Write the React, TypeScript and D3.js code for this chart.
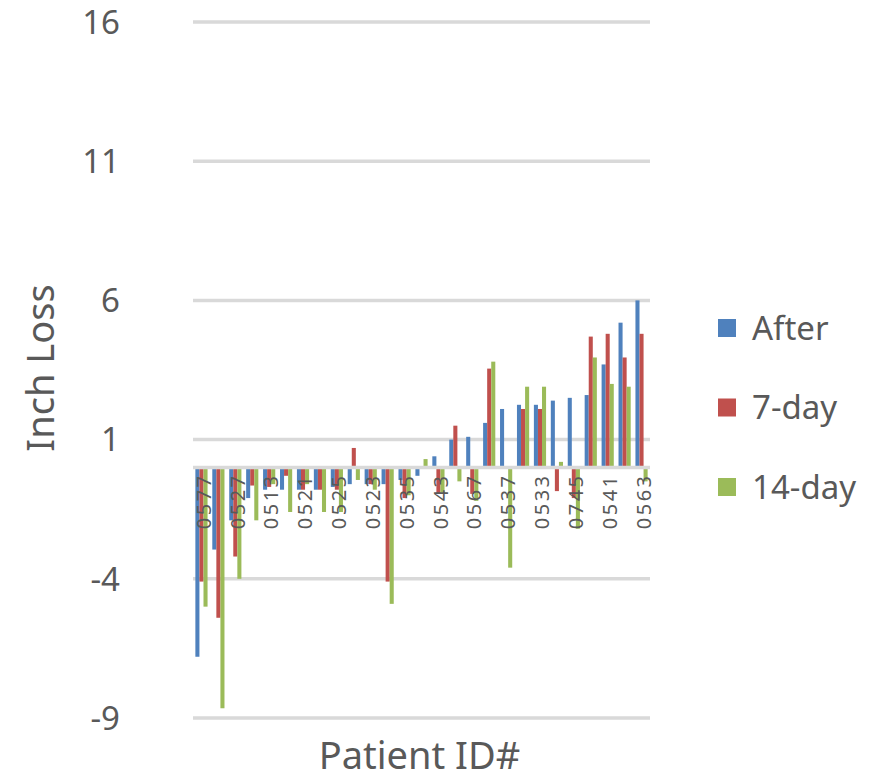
import * as d3 from "d3";
import { useEffect, useRef } from "react";

// patient order as plotted (sorted by "After"); only every other id is shown on the axis
const shownIds = [
  "0577", "0527", "0513", "0521", "0525", "0523", "0535",
  "0543", "0567", "0537", "0533", "0745", "0541", "0563",
];
const after = [
  -6.8, -2.95, -1.9, -1.1, -0.8, -0.8, -0.8, -0.8, -0.7, -0.6, -0.6, -0.6, -0.45, -0.3,
  0.4, 1.0, 1.1, 1.6, 2.1, 2.25, 2.25, 2.4, 2.5, 2.6, 3.7, 5.2, 6.0,
];
const sevenDay = [
  -4.1, -5.4, -3.2, -0.65, -0.7, -0.3, -0.8, -0.8, -0.8, 0.7, -0.6, -4.1, -1.1, 0,
  -0.95, 1.5, -0.95, 3.55, 0, 2.1, 2.1, -0.85, -1.1, 4.7, 4.8, 3.95, 4.8,
];
const fourteenDay = [
  -5.0, -8.65, -4.0, -1.9, -0.6, -1.6, -0.6, -1.6, -1.6, -0.45, -0.8, -4.9, -1.0, 0.3,
  -0.9, -0.5, -1.2, 3.8, -3.6, 2.9, 2.9, 0.2, -2.2, 3.95, 3.0, 2.9, -0.5,
];
const seriesNames = ["After", "7-day", "14-day"];
const yTicks = [-9, -4, 1, 6, 11, 16];

const colors = ["#4F81BD", "#C0504D", "#9BBB59"];
const textColor = "#595959";
const font = "'Noto Sans', 'Open Sans', sans-serif";

export default function App() {
  const svgRef = useRef<SVGSVGElement | null>(null);

  useEffect(() => {
    if (!svgRef.current) return;
    const svg = d3.select(svgRef.current);
    svg.selectAll("*").remove();

    const left = 193;
    const right = 650;
    const top = 22;
    const bottom = 718;

    const series = [after, sevenDay, fourteenDay];
    const idx = d3.range(after.length);

    const x = d3
      .scaleBand<number>()
      .domain(idx)
      .range([left, right])
      .paddingInner(0.28)
      .paddingOuter(0.14);
    const xs = d3.scaleBand<number>().domain([0, 1, 2]).range([0, x.bandwidth()]);
    const y = d3.scaleLinear().domain([-9, 16]).range([bottom, top]);
    const step = x.step();

    // gridlines
    svg
      .append("g")
      .selectAll("line")
      .data(yTicks)
      .enter()
      .append("line")
      .attr("x1", left)
      .attr("x2", right)
      .attr("y1", (d) => y(d))
      .attr("y2", (d) => y(d))
      .attr("stroke", "#D9D9D9")
      .attr("stroke-width", 3.5);

    // tick labels
    svg
      .append("g")
      .selectAll("text")
      .data(yTicks)
      .enter()
      .append("text")
      .attr("x", 120)
      .attr("y", (d) => y(d))
      .attr("dy", "0.36em")
      .attr("text-anchor", "end")
      .attr("font-family", font)
      .attr("font-size", 33)
      .attr("fill", textColor)
      .text((d) => d);

    // bars
    series.forEach((vals, s) => {
      svg
        .append("g")
        .selectAll("rect")
        .data(vals)
        .enter()
        .append("rect")
        .attr("x", (_, i) => x(i)! + xs(s)!)
        .attr("width", xs.bandwidth())
        .attr("y", (d) => y(Math.max(d, 0)))
        .attr("height", (d) => Math.abs(y(d) - y(0)))
        .attr("fill", colors[s]);
    });

    // category axis
    svg
      .append("line")
      .attr("x1", left)
      .attr("x2", right)
      .attr("y1", y(0))
      .attr("y2", y(0))
      .attr("stroke", "#D9D9D9")
      .attr("stroke-width", 3.5);

    svg
      .append("g")
      .selectAll("text")
      .data(shownIds)
      .enter()
      .append("text")
      .attr("transform", (_, i) => {
        const cx = left + step * (i * 2 + 0.5) + 2;
        return `translate(${cx},${y(0) + 6}) rotate(-90)`;
      })
      .attr("dy", "0.36em")
      .attr("text-anchor", "end")
      .attr("font-family", font)
      .attr("font-size", 20)
      .attr("letter-spacing", 2.5)
      .attr("fill", textColor)
      .text((d) => d);

    // axis titles
    svg
      .append("text")
      .attr("transform", `translate(54,${(top + bottom) / 2 - 2}) rotate(-90)`)
      .attr("text-anchor", "middle")
      .attr("font-family", font)
      .attr("font-size", 38)
      .attr("fill", textColor)
      .text("Inch Loss");

    svg
      .append("text")
      .attr("x", (left + right) / 2 - 2)
      .attr("y", 769)
      .attr("text-anchor", "middle")
      .attr("font-family", font)
      .attr("font-size", 38)
      .attr("fill", textColor)
      .text("Patient ID#");

    // legend
    const legend = svg
      .append("g")
      .selectAll("g")
      .data(seriesNames)
      .enter()
      .append("g")
      .attr("transform", (_, i) => `translate(718,${328 + i * 79.5})`);
    legend
      .append("rect")
      .attr("x", 0)
      .attr("y", -9)
      .attr("width", 18)
      .attr("height", 18)
      .attr("fill", (_, i) => colors[i]);
    legend
      .append("text")
      .attr("x", 34)
      .attr("y", 0)
      .attr("dy", "0.36em")
      .attr("font-family", font)
      .attr("font-size", 33)
      .attr("fill", textColor)
      .text((d) => d);
  }, []);

  return (
    <div style={{ position: "absolute", left: 0, top: 0, width: 888, height: 780 }}>
      <svg ref={svgRef} width={888} height={780} style={{ display: "block" }} />
    </div>
  );
}
